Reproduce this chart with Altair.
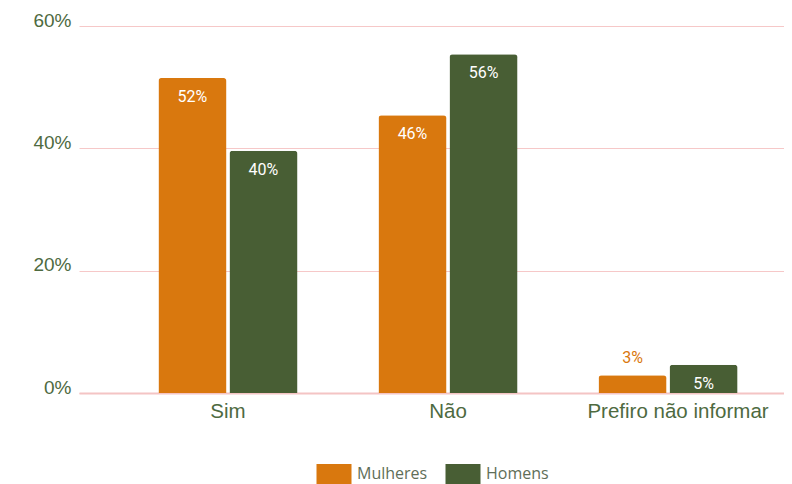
import altair as alt
import pandas as pd

categories = ["Sim", "Não", "Prefiro não informar"]
series = ["Mulheres", "Homens"]
mulheres = [51.5, 45.4, 2.9]
homens = [39.6, 55.4, 4.6]
mulheres_labels = ["52%", "46%", "3%"]
homens_labels = ["40%", "56%", "5%"]
colors = ["#d9780e", "#485e34"]
y_ticks = [0, 20, 40, 60]

rows = []
for i, c in enumerate(categories):
    rows.append({"cat": c, "serie": "Mulheres", "value": mulheres[i], "label": mulheres_labels[i]})
    rows.append({"cat": c, "serie": "Homens", "value": homens[i], "label": homens_labels[i]})
df = pd.DataFrame(rows)

axis_text = "#4e6a3f"

x = alt.X(
    "cat:N", sort=categories,
    scale=alt.Scale(paddingInner=0.368, paddingOuter=0.286, align=0.631),
    axis=alt.Axis(title=None, labelAngle=0, ticks=False, domainColor="#f4c4c4", domainWidth=2,
                  labelFont="Liberation Sans", labelFontSize=20.5, labelColor=axis_text,
                  labelPadding=8, grid=False, labelLimit=400,
                  labelOffset={"condition": {"test": "datum.value === 'Prefiro não informar'", "value": 10},
                               "value": 0}),
)
y = alt.Y(
    "value:Q",
    scale=alt.Scale(domain=[0, 60], nice=False),
    axis=alt.Axis(values=y_ticks, labelExpr="datum.value + '%'", title=None, ticks=False,
                  domain=False, gridColor="#f6c8c8", gridWidth=1,
                  labelFont="Liberation Sans", labelFontSize=19, labelColor=axis_text,
                  labelPadding=8, labelBaseline="alphabetic"),
)
xo = alt.XOffset("serie:N", sort=series, scale=alt.Scale(paddingInner=0.042, paddingOuter=0))
color_scale = alt.Scale(domain=series, range=colors)

base = alt.Chart(df).encode(x=x, xOffset=xo, y=y)

bars = base.mark_bar(cornerRadiusTopLeft=3, cornerRadiusTopRight=3).encode(
    color=alt.Color(
        "serie:N", sort=series, scale=color_scale,
        legend=alt.Legend(
            title=None, orient="none", legendX=245, legendY=438, direction="horizontal",
            symbolType="M-1.75,-1L1.75,-1L1.75,1L-1.75,1Z", symbolSize=400,
            symbolStrokeWidth=0, symbolOpacity=1,
            labelFont="Open Sans", labelFontSize=16, labelColor="#5f6e58",
            labelOffset=13, columnPadding=17,
        ),
    )
)

inside = base.mark_text(baseline="top", dy=11, color="white", font="Roboto", fontSize=16).encode(
    text="label:N"
).transform_filter("datum.value >= 4")

outside = base.mark_text(baseline="bottom", dy=-9, font="Roboto", fontSize=16).encode(
    text="label:N",
    color=alt.Color("serie:N", sort=series, scale=color_scale, legend=None),
).transform_filter("datum.value < 4")

chart = alt.layer(bars, inside, outside).properties(
    width=705, height=367,
    autosize=alt.AutoSizeParams(type="none"),
    padding={"left": 71, "top": 18, "right": 0, "bottom": 91},
).configure_view(stroke=None)

chart.save("out.html", embed_options={"renderer": "svg", "actions": False})
